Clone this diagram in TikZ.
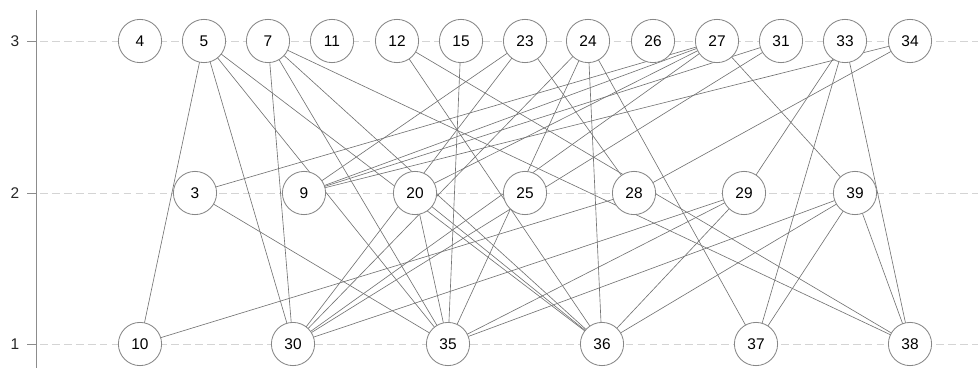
\documentclass[tikz,border=0pt]{standalone}
\usepackage{fontspec}
\setmainfont{Liberation Sans}
\usetikzlibrary{backgrounds}
\definecolor{vertcol}{RGB}{135,135,135}
\definecolor{edgecol}{RGB}{115,115,115}
\definecolor{gridcol}{RGB}{212,212,212}
\definecolor{axiscol}{RGB}{140,140,140}

\begin{document}
\begin{tikzpicture}[x=0.025cm,y=-0.025cm,
  vert/.style={circle,draw=vertcol,fill=white,line width=0.6pt,minimum size=1.08cm,inner sep=0pt,font=\fontsize{11}{13}\selectfont},
  edge/.style={draw=edgecol,line width=0.45pt},
  levelline/.style={draw=gridcol,line width=0.6pt,dash pattern=on 5.5pt off 3pt},
  ticklab/.style={font=\fontsize{11}{13}\selectfont,text=black!85}]
  \useasboundingbox (0,0) rectangle (978,368);
  % axis with level ticks
  \draw[axiscol,line width=0.7pt] (36,10) -- (36,368);
  \foreach \lv/\yy in {3/41,2/193,1/344} {
    \draw[axiscol,line width=0.7pt] (27,\yy) -- (36,\yy);
    \node[ticklab] (tick\lv) at (15,\yy) {\lv};
  }
  % vertices, level 3
  \foreach \v/\xx in {4/140,5/204,7/268,11/332,12/397,15/461,23/525,24/588,26/653,27/717,31/781,33/845,34/910}
    \node[vert] (n\v) at (\xx,41) {\v};
  % level 2
  \foreach \v/\xx in {3/195,9/304,20/415,25/525,28/634,29/744,39/855}
    \node[vert] (n\v) at (\xx,193) {\v};
  % level 1
  \foreach \v/\xx in {10/140,30/293,35/448,36/602,37/756,38/910}
    \node[vert] (n\v) at (\xx,344) {\v};
  \begin{scope}[on background layer]
    \foreach \yy in {41,193,344}
      \draw[levelline] (40,\yy) -- (978,\yy);
    % edges
    \foreach \a/\b in {5/10,5/30,5/35,5/36,7/30,7/35,7/36,7/38,12/36,12/38,15/35,
        23/9,23/30,23/28,24/30,24/35,24/36,24/37,27/3,27/9,27/20,27/30,27/39,
        31/9,31/30,33/29,33/37,33/38,34/9,34/28,3/35,20/35,20/36,28/10,
        29/30,29/35,29/36,39/35,39/36,39/37,39/38}
      \draw[edge] (n\a.center) -- (n\b.center);
  \end{scope}
\end{tikzpicture}
\end{document}
